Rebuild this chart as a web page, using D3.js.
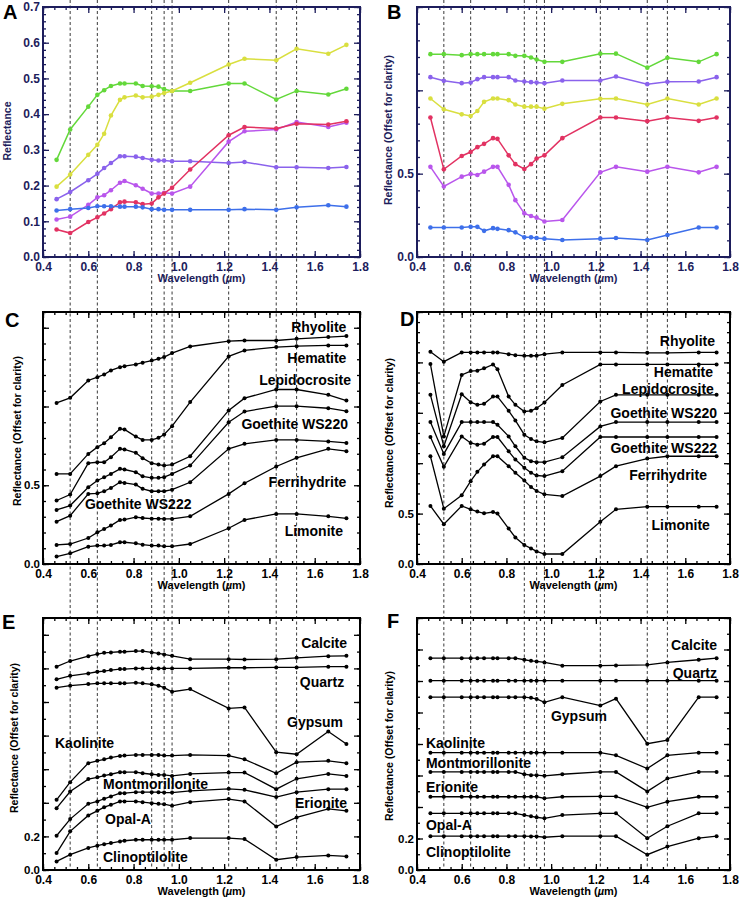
<!DOCTYPE html>
<html>
<head>
<meta charset="utf-8">
<script src="https://cdn.jsdelivr.net/npm/d3@7"></script>
<style>
  body { margin: 0; background: #fff; }
  text { font-family: "Liberation Sans", Arial, sans-serif; font-weight: bold; }
</style>
</head>
<body>
<div id="fig"></div>
<script>
// wavelengths of the measured bands (um)
const wavelengths = [0.46, 0.52, 0.60, 0.64, 0.67, 0.70, 0.74, 0.76, 0.81, 0.84, 0.88, 0.91, 0.935, 0.97, 1.05, 1.22, 1.29, 1.43, 1.52, 1.66, 1.74];
const bandLines = [0.52, 0.64, 0.88, 0.935, 0.97, 1.22, 1.43, 1.52];
const xTickLabels = [0.4, 0.6, 0.8, 1.0, 1.2, 1.4, 1.6, 1.8];

// panel A - reflectance
const aGreen   = [0.272, 0.357, 0.421, 0.454, 0.467, 0.479, 0.486, 0.486, 0.486, 0.479, 0.478, 0.477, 0.470, 0.465, 0.465, 0.486, 0.486, 0.441, 0.465, 0.455, 0.471];
const aYellow  = [0.197, 0.231, 0.286, 0.314, 0.345, 0.396, 0.440, 0.447, 0.452, 0.447, 0.449, 0.454, 0.459, 0.465, 0.488, 0.539, 0.555, 0.551, 0.583, 0.569, 0.594];
const aViolet  = [0.162, 0.182, 0.215, 0.233, 0.249, 0.263, 0.282, 0.282, 0.281, 0.277, 0.272, 0.270, 0.270, 0.268, 0.268, 0.263, 0.266, 0.251, 0.251, 0.249, 0.252];
const aMagenta = [0.105, 0.113, 0.146, 0.167, 0.173, 0.187, 0.208, 0.213, 0.201, 0.191, 0.178, 0.178, 0.180, 0.178, 0.197, 0.323, 0.352, 0.357, 0.378, 0.364, 0.376];
const aRed     = [0.077, 0.067, 0.098, 0.111, 0.122, 0.134, 0.153, 0.155, 0.153, 0.148, 0.150, 0.167, 0.178, 0.194, 0.245, 0.341, 0.364, 0.360, 0.373, 0.371, 0.380];
const aBlue    = [0.130, 0.134, 0.137, 0.142, 0.142, 0.142, 0.141, 0.141, 0.141, 0.139, 0.134, 0.134, 0.132, 0.132, 0.132, 0.132, 0.134, 0.132, 0.139, 0.145, 0.141];

// panel B - offset reflectance
const bGreen   = [1.217, 1.217, 1.211, 1.217, 1.217, 1.217, 1.217, 1.217, 1.217, 1.207, 1.207, 1.197, 1.185, 1.171, 1.171, 1.220, 1.220, 1.136, 1.195, 1.171, 1.217];
const bViolet  = [1.079, 1.057, 1.043, 1.047, 1.067, 1.079, 1.079, 1.079, 1.079, 1.059, 1.053, 1.049, 1.047, 1.043, 1.059, 1.059, 1.083, 1.037, 1.051, 1.053, 1.079];
const bYellow  = [0.951, 0.886, 0.856, 0.846, 0.876, 0.931, 0.951, 0.951, 0.941, 0.915, 0.902, 0.902, 0.902, 0.890, 0.919, 0.949, 0.951, 0.915, 0.951, 0.915, 0.951];
const bRed     = [0.837, 0.526, 0.606, 0.630, 0.659, 0.679, 0.713, 0.709, 0.610, 0.557, 0.528, 0.557, 0.591, 0.610, 0.713, 0.837, 0.837, 0.815, 0.837, 0.817, 0.837];
const bMagenta = [0.541, 0.423, 0.482, 0.498, 0.492, 0.512, 0.541, 0.541, 0.433, 0.341, 0.262, 0.246, 0.236, 0.213, 0.222, 0.508, 0.541, 0.512, 0.541, 0.508, 0.541];
const bBlue    = [0.177, 0.177, 0.177, 0.181, 0.181, 0.157, 0.173, 0.169, 0.161, 0.148, 0.118, 0.118, 0.114, 0.110, 0.102, 0.110, 0.114, 0.102, 0.132, 0.177, 0.177];

// panel C
const cRhyolite   = [1.023, 1.055, 1.165, 1.186, 1.203, 1.229, 1.250, 1.256, 1.267, 1.278, 1.292, 1.303, 1.314, 1.339, 1.381, 1.415, 1.419, 1.419, 1.430, 1.441, 1.447];
const cHematite   = [0.572, 0.572, 0.699, 0.742, 0.767, 0.805, 0.858, 0.854, 0.809, 0.788, 0.788, 0.801, 0.822, 0.875, 1.028, 1.318, 1.356, 1.377, 1.383, 1.388, 1.388];
const cLepido     = [0.403, 0.441, 0.640, 0.646, 0.646, 0.678, 0.731, 0.727, 0.706, 0.672, 0.640, 0.631, 0.625, 0.631, 0.684, 0.975, 1.053, 1.108, 1.108, 1.074, 1.038];
const cGoethite1  = [0.343, 0.371, 0.487, 0.530, 0.551, 0.572, 0.604, 0.600, 0.583, 0.557, 0.547, 0.547, 0.551, 0.572, 0.625, 0.900, 0.968, 1.002, 1.002, 0.989, 0.970];
const cGoethite2  = [0.269, 0.307, 0.445, 0.449, 0.462, 0.483, 0.519, 0.515, 0.504, 0.477, 0.462, 0.462, 0.462, 0.472, 0.519, 0.731, 0.763, 0.788, 0.788, 0.778, 0.769];
const cFerri      = [0.121, 0.127, 0.165, 0.201, 0.222, 0.244, 0.280, 0.282, 0.297, 0.292, 0.288, 0.288, 0.286, 0.286, 0.303, 0.445, 0.513, 0.619, 0.674, 0.731, 0.716];
const cLimonite   = [0.047, 0.068, 0.110, 0.117, 0.117, 0.121, 0.138, 0.138, 0.131, 0.123, 0.117, 0.117, 0.112, 0.112, 0.127, 0.227, 0.280, 0.318, 0.318, 0.303, 0.290];

// panel D
const dRhyolite   = [2.105, 2.007, 2.099, 2.099, 2.099, 2.099, 2.099, 2.099, 2.082, 2.072, 2.066, 2.066, 2.066, 2.082, 2.099, 2.099, 2.099, 2.095, 2.095, 2.099, 2.099];
const dHematite   = [1.984, 1.266, 1.875, 1.914, 1.918, 1.941, 1.980, 1.931, 1.661, 1.579, 1.513, 1.520, 1.546, 1.602, 1.776, 1.980, 1.980, 1.980, 1.980, 1.980, 1.980];
const dLepido     = [1.678, 1.168, 1.684, 1.605, 1.579, 1.589, 1.661, 1.661, 1.520, 1.424, 1.283, 1.240, 1.217, 1.207, 1.250, 1.612, 1.678, 1.678, 1.678, 1.678, 1.678];
const dGoethite1  = [1.408, 1.092, 1.408, 1.408, 1.408, 1.408, 1.408, 1.382, 1.266, 1.168, 1.053, 1.020, 1.010, 1.010, 1.059, 1.365, 1.408, 1.408, 1.408, 1.408, 1.408];
const dGoethite2  = [1.260, 0.964, 1.266, 1.201, 1.184, 1.194, 1.260, 1.260, 1.118, 1.036, 0.954, 0.905, 0.878, 0.872, 0.921, 1.260, 1.260, 1.260, 1.260, 1.260, 1.260];
const dFerri      = [1.069, 0.549, 0.681, 0.822, 0.914, 0.987, 1.069, 1.069, 0.970, 0.905, 0.829, 0.763, 0.724, 0.691, 0.674, 0.872, 0.970, 1.046, 1.069, 1.069, 1.069];
const dLimonite   = [0.576, 0.395, 0.576, 0.543, 0.520, 0.503, 0.516, 0.500, 0.352, 0.263, 0.188, 0.155, 0.125, 0.099, 0.099, 0.418, 0.543, 0.569, 0.569, 0.569, 0.569];

// panel E
const eCalcite  = [1.210, 1.244, 1.273, 1.285, 1.293, 1.295, 1.299, 1.299, 1.303, 1.303, 1.295, 1.289, 1.283, 1.275, 1.255, 1.255, 1.253, 1.255, 1.263, 1.273, 1.275];
const eQuartz   = [1.135, 1.156, 1.170, 1.180, 1.184, 1.190, 1.196, 1.196, 1.200, 1.200, 1.200, 1.200, 1.200, 1.200, 1.200, 1.204, 1.204, 1.206, 1.206, 1.210, 1.210];
const eGypsum   = [1.085, 1.097, 1.107, 1.111, 1.111, 1.111, 1.111, 1.111, 1.115, 1.111, 1.105, 1.097, 1.085, 1.061, 1.077, 0.962, 0.968, 0.701, 0.689, 0.824, 0.750];
const eKaol     = [0.418, 0.523, 0.636, 0.650, 0.659, 0.669, 0.679, 0.681, 0.685, 0.685, 0.685, 0.685, 0.681, 0.681, 0.685, 0.681, 0.659, 0.576, 0.642, 0.650, 0.636];
const eMont     = [0.368, 0.467, 0.541, 0.552, 0.562, 0.570, 0.582, 0.582, 0.582, 0.576, 0.570, 0.566, 0.566, 0.560, 0.572, 0.580, 0.580, 0.481, 0.543, 0.572, 0.560];
const eErionite = [0.204, 0.303, 0.394, 0.408, 0.424, 0.438, 0.457, 0.457, 0.463, 0.463, 0.463, 0.463, 0.461, 0.461, 0.471, 0.483, 0.477, 0.434, 0.463, 0.481, 0.481];
const eOpal     = [0.101, 0.230, 0.325, 0.352, 0.374, 0.388, 0.408, 0.408, 0.408, 0.404, 0.398, 0.394, 0.392, 0.382, 0.404, 0.422, 0.408, 0.259, 0.313, 0.364, 0.352];
const eClino    = [0.051, 0.091, 0.131, 0.145, 0.154, 0.160, 0.170, 0.174, 0.180, 0.180, 0.180, 0.180, 0.180, 0.180, 0.190, 0.190, 0.184, 0.061, 0.077, 0.087, 0.081];

// panel F
const fCalcite  = [1.345, 1.345, 1.345, 1.345, 1.345, 1.345, 1.345, 1.345, 1.345, 1.345, 1.335, 1.328, 1.324, 1.318, 1.297, 1.297, 1.299, 1.303, 1.318, 1.335, 1.345];
const fQuartz   = [1.202, 1.202, 1.202, 1.202, 1.202, 1.202, 1.202, 1.202, 1.202, 1.202, 1.202, 1.202, 1.202, 1.202, 1.202, 1.202, 1.202, 1.202, 1.202, 1.202, 1.202];
const fGypsum   = [1.097, 1.097, 1.097, 1.097, 1.097, 1.097, 1.097, 1.097, 1.097, 1.097, 1.097, 1.093, 1.086, 1.065, 1.097, 1.044, 1.088, 0.802, 0.825, 1.097, 1.097];
const fKaol     = [0.745, 0.745, 0.745, 0.745, 0.745, 0.745, 0.745, 0.745, 0.745, 0.745, 0.745, 0.745, 0.745, 0.745, 0.745, 0.745, 0.728, 0.644, 0.728, 0.745, 0.745];
const fMont     = [0.623, 0.623, 0.623, 0.623, 0.623, 0.623, 0.623, 0.623, 0.623, 0.623, 0.608, 0.602, 0.602, 0.598, 0.608, 0.623, 0.623, 0.499, 0.581, 0.623, 0.623];
const fErionite = [0.465, 0.465, 0.465, 0.465, 0.465, 0.465, 0.465, 0.465, 0.465, 0.465, 0.465, 0.465, 0.465, 0.455, 0.465, 0.467, 0.467, 0.398, 0.434, 0.465, 0.465];
const fOpal     = [0.360, 0.360, 0.360, 0.360, 0.360, 0.360, 0.360, 0.360, 0.360, 0.360, 0.349, 0.341, 0.335, 0.328, 0.349, 0.360, 0.360, 0.202, 0.278, 0.360, 0.360];
const fClino    = [0.215, 0.215, 0.215, 0.215, 0.215, 0.215, 0.215, 0.215, 0.215, 0.215, 0.215, 0.213, 0.213, 0.208, 0.215, 0.215, 0.215, 0.097, 0.149, 0.202, 0.215];

// y tick values for each panel
const aYTicks = [0, 0.1, 0.2, 0.3, 0.4, 0.5, 0.6, 0.7];
const bYTicks = [0, 0.5, 1.0, 1.5];
const cYTicks = [0, 0.5, 1.0, 1.5];
const dYTicks = [0, 0.5, 1.0, 1.5, 2.0, 2.5];
const eYTicks = [0, 0.2, 0.4, 0.6, 0.8, 1.0, 1.2, 1.4];
const fYTicks = [0, 0.2, 0.4, 0.6, 0.8, 1.0, 1.2, 1.4, 1.6];

const green = '#63d83a', yellow = '#d9df3f', violet = '#8a62ec',
      magenta = '#b956ec', red = '#e23262', blue = '#3d6fea';
const navy = '#1d1d5c';

const svg = d3.select('#fig').append('svg').attr('width', 740).attr('height', 899);

const cols = [{x0: 43, x1: 360}, {x0: 417, x1: 730}];
const xScales = cols.map(c => d3.scaleLinear().domain([0.4, 1.8]).range([c.x0, c.x1]));
const xMinor = d3.range(0.4, 1.8001, 0.05);

// dashed band lines running through the whole column
xScales.forEach(x => {
    svg.append('g').selectAll('line')
        .data(bandLines)
        .enter()
        .append('line')
        .attr('x1', d => x(d)).attr('x2', d => x(d))
        .attr('y1', 0).attr('y2', 870)
        .attr('stroke', '#222')
        .attr('stroke-width', 0.9)
        .attr('stroke-dasharray', '3,2.5');
});

const panels = [
    {key: 'A', col: 0, top: 7, bottom: 257, yMax: 0.7, yTicks: aYTicks, yLabeled: aYTicks, yMinor: 0.02,
     color: navy, title: 'Reflectance', titleX: 7, titleY: 131, letter: [3, 19], dot: 2.3, lw: 1.5,
     series: [[aGreen, green], [aYellow, yellow], [aViolet, violet], [aMagenta, magenta], [aRed, red], [aBlue, blue]], labels: []},
    {key: 'B', col: 1, top: 7, bottom: 257, yMax: 1.5, yTicks: bYTicks, yLabeled: [0, 0.5], yMinor: 0.1,
     color: navy, title: 'Reflectance (Offset for clarity)', titleX: 388, titleY: 130, letter: [387, 19], dot: 2.3, lw: 1.5,
     series: [[bGreen, green], [bViolet, violet], [bYellow, yellow], [bRed, red], [bMagenta, magenta], [bBlue, blue]], labels: []},
    {key: 'C', col: 0, top: 312, bottom: 564, yMax: 1.6, yTicks: cYTicks, yLabeled: [0, 0.5], yMinor: 0.1,
     color: '#000', title: 'Reflectance (Offset for clarity)', titleX: 17, titleY: 431, letter: [5, 327], dot: 2, lw: 1.3,
     series: [[cRhyolite], [cHematite], [cLepido], [cGoethite1], [cGoethite2], [cFerri], [cLimonite]],
     labels: [['Rhyolite', 1.74, 1.47, 'end'], ['Hematite', 1.74, 1.276, 'end'], ['Lepidocrosite', 1.76, 1.137, 'end'],
              ['Goethite WS220', 1.747, 0.857, 'end'], ['Ferrihydrite', 1.74, 0.489, 'end'], ['Limonite', 1.725, 0.178, 'end'],
              ['Goethite WS222', 0.585, 0.349, 'start']]},
    {key: 'D', col: 1, top: 312, bottom: 564, yMax: 2.5, yTicks: dYTicks, yLabeled: [0, 0.5], yMinor: 0.1,
     color: '#000', title: 'Reflectance (Offset for clarity)', titleX: 389, titleY: 433, letter: [400, 326], dot: 2, lw: 1.3,
     series: [[dRhyolite], [dHematite], [dLepido], [dGoethite1], [dGoethite2], [dFerri], [dLimonite]],
     labels: [['Rhyolite', 1.733, 2.163, 'end'], ['Hematite', 1.724, 1.86, 'end'], ['Lepidocrosite', 1.728, 1.69, 'end'],
              ['Goethite WS220', 1.742, 1.448, 'end'], ['Goethite WS222', 1.742, 1.101, 'end'], ['Ferrihydrite', 1.697, 0.833, 'end'],
              ['Limonite', 1.71, 0.337, 'end']]},
    {key: 'E', col: 0, top: 618, bottom: 870, yMax: 1.5, yTicks: eYTicks, yLabeled: [0, 0.2], yMinor: 0.1,
     color: '#000', title: 'Reflectance (Offset for clarity)', titleX: 14, titleY: 738, letter: [2, 629], dot: 2, lw: 1.3,
     series: [[eCalcite], [eQuartz], [eGypsum], [eKaol], [eMont], [eErionite], [eOpal], [eClino]],
     labels: [['Calcite', 1.743, 1.321, 'end'], ['Quartz', 1.73, 1.089, 'end'], ['Gypsum', 1.725, 0.851, 'end'],
              ['Kaolinite', 0.453, 0.726, 'start'], ['Montmorillonite', 0.665, 0.482, 'start'], ['Erionite', 1.743, 0.369, 'end'],
              ['Opal-A', 0.674, 0.274, 'start'], ['Clinoptilolite', 0.665, 0.048, 'start']]},
    {key: 'F', col: 1, top: 618, bottom: 870, yMax: 1.6, yTicks: fYTicks, yLabeled: [0, 0.2], yMinor: 0.1,
     color: '#000', title: 'Reflectance (Offset for clarity)', titleX: 389, titleY: 746, letter: [387, 628], dot: 2, lw: 1.3,
     series: [[fCalcite], [fQuartz], [fGypsum], [fKaol], [fMont], [fErionite], [fOpal], [fClino]],
     labels: [['Calcite', 1.742, 1.397, 'end'], ['Quartz', 1.742, 1.219, 'end'], ['Gypsum', 0.999, 0.946, 'start'],
              ['Kaolinite', 0.44, 0.775, 'start'], ['Montmorillonite', 0.44, 0.648, 'start'], ['Erionite', 0.44, 0.495, 'start'],
              ['Opal-A', 0.44, 0.254, 'start'], ['Clinoptilolite', 0.44, 0.083, 'start']]}
];

const fmt = d3.format('.1f');

function styleAxis(sel, color, size) {
    sel.select('.domain').remove();
    sel.selectAll('line').attr('stroke', color).attr('stroke-width', 1.3);
    sel.selectAll('text')
        .attr('fill', color)
        .style('font-size', (size || 12) + 'px')
        .style('font-family', '"Liberation Sans", Arial, sans-serif')
        .style('font-weight', 'bold');
}

panels.forEach(function (p) {
    let x = xScales[p.col];
    let y = d3.scaleLinear().domain([0, p.yMax]).range([p.bottom, p.top]);
    let g = svg.append('g');
    let yMinorTicks = d3.range(0, p.yMax + 1e-6, p.yMinor);
    let isLabeled = d => p.yLabeled.some(v => Math.abs(v - d) < 1e-6);
    let ySize = p.color === navy ? 12 : 11.5;

    // bottom + top
    g.append('g').attr('transform', 'translate(0,' + p.bottom + ')')
        .call(d3.axisBottom(x).tickValues(xTickLabels).tickSize(-6).tickPadding(5).tickFormat(fmt))
        .call(s => styleAxis(s, p.color));
    g.append('g').attr('transform', 'translate(0,' + p.bottom + ')')
        .call(d3.axisBottom(x).tickValues(xMinor).tickSize(-3).tickFormat(''))
        .call(s => styleAxis(s, p.color));
    g.append('g').attr('transform', 'translate(0,' + p.top + ')')
        .call(d3.axisTop(x).tickValues(xTickLabels).tickSize(-6).tickFormat(''))
        .call(s => styleAxis(s, p.color));
    g.append('g').attr('transform', 'translate(0,' + p.top + ')')
        .call(d3.axisTop(x).tickValues(xMinor).tickSize(-3).tickFormat(''))
        .call(s => styleAxis(s, p.color));

    // left + right
    let x0 = cols[p.col].x0, x1 = cols[p.col].x1;
    g.append('g').attr('transform', 'translate(' + x0 + ',0)')
        .call(d3.axisLeft(y).tickValues(p.yTicks).tickSize(-6).tickPadding(3)
            .tickFormat(d => isLabeled(d) ? fmt(d) : ''))
        .call(s => styleAxis(s, p.color, ySize));
    g.append('g').attr('transform', 'translate(' + x0 + ',0)')
        .call(d3.axisLeft(y).tickValues(yMinorTicks).tickSize(-3).tickFormat(''))
        .call(s => styleAxis(s, p.color));
    g.append('g').attr('transform', 'translate(' + x1 + ',0)')
        .call(d3.axisRight(y).tickValues(p.yTicks).tickSize(-6).tickFormat(''))
        .call(s => styleAxis(s, p.color));
    g.append('g').attr('transform', 'translate(' + x1 + ',0)')
        .call(d3.axisRight(y).tickValues(yMinorTicks).tickSize(-3).tickFormat(''))
        .call(s => styleAxis(s, p.color));

    // frame
    g.append('rect')
        .attr('x', x0).attr('y', p.top)
        .attr('width', x1 - x0).attr('height', p.bottom - p.top)
        .attr('fill', 'none')
        .attr('stroke', p.color)
        .attr('stroke-width', 2);

    // axis titles
    let xt = g.append('text')
        .attr('x', (x0 + x1) / 2)
        .attr('y', p.bottom + 25)
        .attr('text-anchor', 'middle')
        .attr('fill', p.color)
        .style('font-size', '11px');
    xt.append('tspan').text('Wavelength (');
    xt.append('tspan').style('font-style', 'italic').text('\u00b5');
    xt.append('tspan').text('m)');

    g.append('text')
        .attr('transform', 'translate(' + p.titleX + ',' + p.titleY + ') rotate(-90)')
        .attr('text-anchor', 'middle')
        .attr('dy', '0.35em')
        .attr('fill', p.color)
        .style('font-size', '10.5px')
        .text(p.title);

    g.append('text')
        .attr('x', p.letter[0]).attr('y', p.letter[1])
        .style('font-size', '20px')
        .attr('fill', '#000')
        .text(p.key);

    // spectra
    let line = d3.line()
        .x((d, i) => x(wavelengths[i]))
        .y(d => y(d));

    p.series.forEach(function (s) {
        let col = s[1] || '#000';
        g.append('path')
            .datum(s[0])
            .attr('d', line)
            .attr('fill', 'none')
            .attr('stroke', col)
            .attr('stroke-width', p.lw);
        g.append('g').selectAll('circle')
            .data(s[0])
            .enter()
            .append('circle')
            .attr('cx', (d, i) => x(wavelengths[i]))
            .attr('cy', d => y(d))
            .attr('r', p.dot)
            .attr('fill', col);
    });

    // mineral names
    g.selectAll('.lbl')
        .data(p.labels)
        .enter()
        .append('text')
        .attr('class', 'lbl')
        .attr('x', d => x(d[1]))
        .attr('y', d => y(d[2]))
        .attr('text-anchor', d => d[3])
        .attr('fill', '#000')
        .style('font-size', '14px')
        .text(d => d[0]);
});
</script>
</body>
</html>
